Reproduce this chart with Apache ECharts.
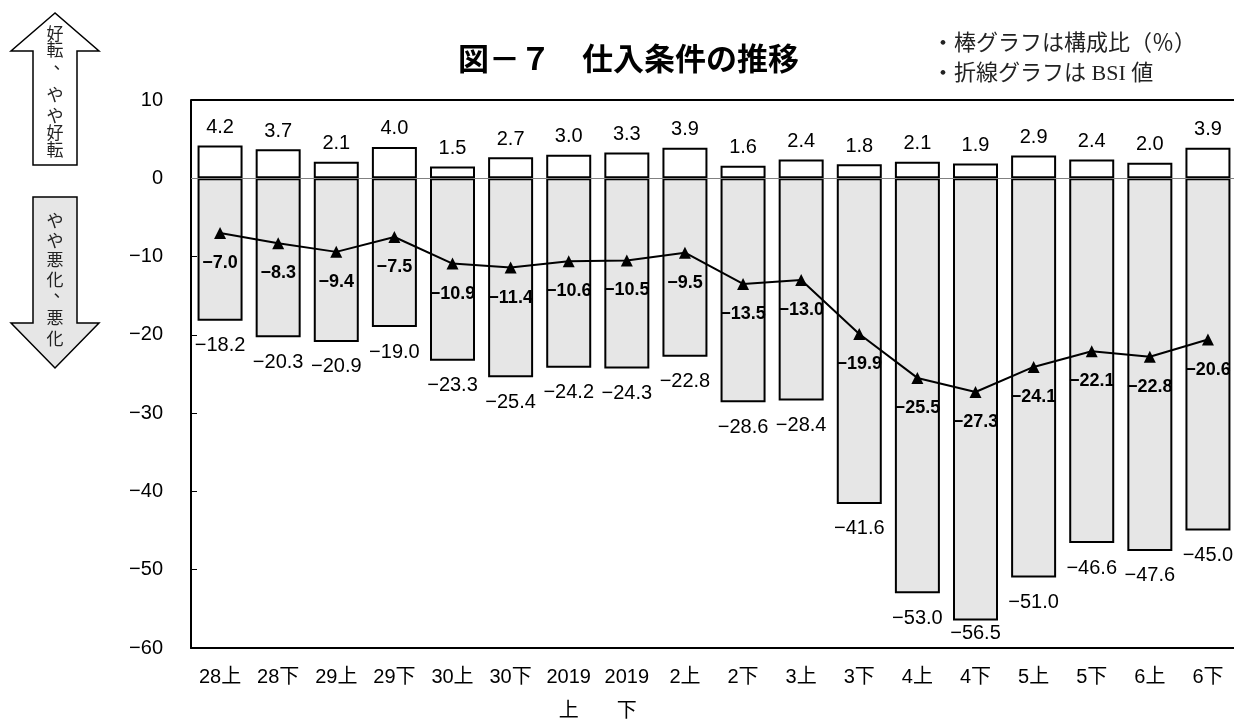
<!DOCTYPE html>
<html>
<head>
<meta charset="utf-8">
<title>仕入条件の推移</title>
<script src="https://cdn.jsdelivr.net/npm/echarts@6/dist/echarts.min.js"></script>
<style>
  html, body {
    margin: 0;
    padding: 0;
    background: #fff;
  }

  #chart {
    width: 1234px;
    height: 722px;
  }
</style>
</head>
<body>
<div id="chart"></div>
<script>
const categories = ['28上', '28下', '29上', '29下', '30上', '30下', '2019\n上', '2019\n下', '2上', '2下',
  '3上', '3下', '4上', '4下', '5上', '5下', '6上', '6下']

// 好転、やや好転（%）
const better = [4.2, 3.7, 2.1, 4.0, 1.5, 2.7, 3.0, 3.3, 3.9, 1.6, 2.4, 1.8, 2.1, 1.9, 2.9, 2.4, 2.0, 3.9]
// やや悪化、悪化（%）
const worse = [-18.2, -20.3, -20.9, -19.0, -23.3, -25.4, -24.2, -24.3, -22.8, -28.6, -28.4, -41.6,
  -53.0, -56.5, -51.0, -46.6, -47.6, -45.0]
// BSI値
const bsi = [-7.0, -8.3, -9.4, -7.5, -10.9, -11.4, -10.6, -10.5, -9.5, -13.5, -13.0, -19.9,
  -25.5, -27.3, -24.1, -22.1, -22.8, -20.6]

const yTicks = [-60, -50, -40, -30, -20, -10, 0, 10]

const sans = "'Liberation Sans', 'Noto Sans CJK JP', sans-serif"
const serif = "'Liberation Serif', 'Noto Sans CJK JP', serif"

const minus = (s) => String(s).replace('-', '\u2212')
const fmt1 = (p) => minus(Number(p.value).toFixed(1))

// 矢印の中の縦書き文字
const upChars = [['好', 34], ['転', 50], ['、', 63], ['や', 95], ['や', 116], ['好', 133], ['転', 150]]
const downChars = [['や', 221], ['や', 241], ['悪', 260], ['化', 280], ['、', 291], ['悪', 318], ['化', 339]]

const charText = (list) => list.map(([c, y]) => ({
  type: 'text',
  x: c === '、' ? 62 : 55,
  y: y,
  style: {
    text: c,
    font: "17px 'Noto Sans CJK JP'",
    fill: '#222',
    align: 'center',
    verticalAlign: 'middle'
  },
  z: 10
}))

// 軸の下端に近い棒はラベルを詰める
const worseData = worse.map(v => v < yTicks[0] + 5 ? {value: v, label: {distance: 3}} : v)

const chart = echarts.init(document.getElementById('chart'))

chart.setOption({
  animation: false,
  title: {
    text: '図－７　仕入条件の推移',
    left: 453,
    top: 38,
    textStyle: {
      fontFamily: "'Noto Sans CJK JP', sans-serif",
      fontWeight: 'bold',
      fontSize: 31,
      color: '#000'
    }
  },
  grid: {
    left: 191,
    top: 100,
    width: 1046,
    height: 548,
    outerBoundsMode: 'none'
  },
  xAxis: {
    type: 'category',
    data: categories,
    axisLine: {onZero: false, lineStyle: {color: '#000', width: 2}},
    axisTick: {show: false},
    axisLabel: {
      color: '#000',
      fontFamily: sans,
      fontSize: 20,
      lineHeight: 34,
      margin: 12,
      interval: 0
    }
  },
  yAxis: {
    type: 'value',
    min: yTicks[0],
    max: yTicks[yTicks.length - 1],
    interval: 10,
    splitLine: {show: false},
    axisLine: {show: true, lineStyle: {color: '#000', width: 2}},
    axisTick: {show: true, inside: true, length: 6, lineStyle: {color: '#000', width: 1}},
    axisLabel: {
      color: '#000',
      fontFamily: sans,
      fontSize: 20,
      margin: 28,
      formatter: (v) => minus(v)
    }
  },
  series: [
    {
      name: '好転、やや好転',
      type: 'bar',
      stack: 'ratio',
      data: better,
      barWidth: 45,
      itemStyle: {color: '#fff', borderColor: '#000', borderWidth: 2},
      label: {
        show: true,
        position: 'top',
        distance: 8,
        color: '#000',
        fontFamily: sans,
        fontSize: 20,
        formatter: fmt1
      },
      markLine: {
        silent: true,
        symbol: 'none',
        label: {show: false},
        data: [
          {yAxis: 0, lineStyle: {color: '#808080', width: 1, type: 'solid'}},
          // 上の枠線
          {yAxis: yTicks[yTicks.length - 1], lineStyle: {color: '#000', width: 2, type: 'solid'}}
        ]
      }
    },
    {
      name: 'やや悪化、悪化',
      type: 'bar',
      stack: 'ratio',
      data: worseData,
      barWidth: 45,
      itemStyle: {color: '#e6e6e6', borderColor: '#000', borderWidth: 2},
      label: {
        show: true,
        position: 'bottom',
        distance: 15,
        color: '#000',
        fontFamily: sans,
        fontSize: 20,
        formatter: fmt1
      }
    },
    {
      name: 'BSI',
      type: 'line',
      data: bsi,
      symbol: 'triangle',
      symbolSize: 12,
      itemStyle: {color: '#000'},
      lineStyle: {color: '#000', width: 2},
      z: 5,
      label: {
        show: true,
        position: 'bottom',
        distance: 15,
        color: '#000',
        fontFamily: sans,
        fontWeight: 'bold',
        fontSize: 18,
        formatter: fmt1
      }
    }
  ],
  graphic: [
    // 上向き矢印（好転、やや好転）
    {
      type: 'polygon',
      shape: {points: [[55, 13], [11, 51], [33, 51], [33, 165], [77, 165], [77, 51], [99, 51]]},
      style: {fill: '#fff', stroke: '#000', lineWidth: 1.5}
    },
    // 下向き矢印（やや悪化、悪化）
    {
      type: 'polygon',
      shape: {points: [[33, 197], [77, 197], [77, 323], [99, 323], [55, 368], [11, 323], [33, 323]]},
      style: {fill: '#e6e6e6', stroke: '#000', lineWidth: 1.5}
    },
    ...charText(upChars),
    ...charText(downChars),
    {
      type: 'text',
      left: 932,
      top: 29,
      style: {
        text: '・棒グラフは構成比（％）\n・折線グラフは BSI 値',
        font: '22px ' + serif,
        fill: '#222',
        lineHeight: 30
      }
    }
  ]
})

window.addEventListener('resize', () => chart.resize())
</script>
</body>
</html>
